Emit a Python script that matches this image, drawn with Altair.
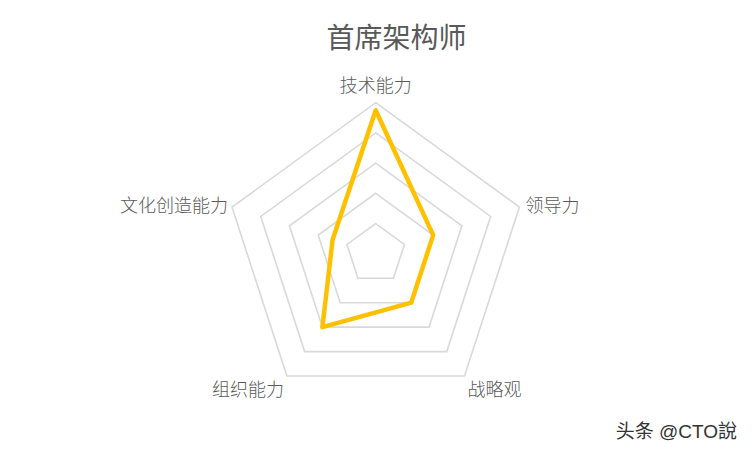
import altair as alt
import pandas as pd

# ---- data ----
categories = ["技术能力", "领导力", "战略观", "组织能力", "文化创造能力"]
values = [95, 40, 40, 60, 30]
levels = [20, 40, 60, 80, 100]
title_text = "首席架构师"
watermark = ["头条 @CTO說"]

n = len(categories)
series_df = pd.DataFrame({"i": list(range(n)), "cat": categories, "r": values})
grid_df = pd.DataFrame(
    [{"level": lv, "i": i, "r": lv} for lv in levels for i in range(n)]
)
label_df = pd.DataFrame({"i": list(range(n)), "cat": categories, "r": [max(levels)] * n})

# ---- geometry (pixel layout) ----
W, H = 737, 387
PX_PER_UNIT = 1.511
CX, CY = 367.7, 195.8
xdom = [-CX / PX_PER_UNIT, (W - CX) / PX_PER_UNIT]
ydom = [-(H - CY) / PX_PER_UNIT, CY / PX_PER_UNIT]

xs = alt.Scale(domain=xdom, nice=False, zero=False)
ys = alt.Scale(domain=ydom, nice=False, zero=False)

def polar(ch):
    return ch.transform_calculate(
        ang=f"datum.i * 2 * PI / {n}",
    ).transform_calculate(
        px="datum.r * sin(datum.ang)",
        py="datum.r * cos(datum.ang)",
    )

X = alt.X("px:Q", scale=xs, axis=None)
Y = alt.Y("py:Q", scale=ys, axis=None)

FONT = "Noto Sans CJK SC"
LABEL_COLOR = "#595959"

grid = polar(alt.Chart(grid_df)).mark_line(
    interpolate="linear-closed", color="#d9d9d9", strokeWidth=1.6
).encode(x=X, y=Y, order="i:O", detail="level:N")

line = polar(alt.Chart(series_df)).mark_line(
    interpolate="linear-closed", color="#FFC000", strokeWidth=4.5, strokeJoin="round"
).encode(x=X, y=Y, order="i:O")

label_specs = [
    (0, "center", 0, -16),
    (1, "left", 6, 0),
    (2, "left", 3, 15),
    (3, "right", -3, 15),
    (4, "right", -4, 0),
]
label_layers = []
for idx, align, dx, dy in label_specs:
    label_layers.append(
        polar(alt.Chart(label_df)).transform_filter(f"datum.i == {idx}").mark_text(
            align=align, baseline="middle", dx=dx, dy=dy,
            font=FONT, fontSize=18, fontWeight=300, color=LABEL_COLOR
        ).encode(x=X, y=Y, text="cat:N")
    )

wm = alt.Chart(pd.DataFrame({"t": watermark})).mark_text(
    align="right", baseline="middle", font="Liberation Sans, Noto Sans CJK SC",
    fontSize=19, color="#333333"
).encode(x=alt.value(729), y=alt.value(374), text="t:N")

chart = alt.layer(grid, line, *label_layers, wm).properties(
    width=W, height=H,
    title=alt.TitleParams(
        text=title_text, anchor="middle", dx=20, dy=32, fontSize=28, fontWeight="normal",
        font=FONT, color=LABEL_COLOR, baseline="middle", offset=22
    ),
    autosize=alt.AutoSizeParams(type="none"),
    padding={"top": 50, "left": 0, "right": 0, "bottom": 0},
    background="white",
).configure_view(stroke=None)

chart.save("out.html", embed_options={"renderer": "svg", "actions": False})
